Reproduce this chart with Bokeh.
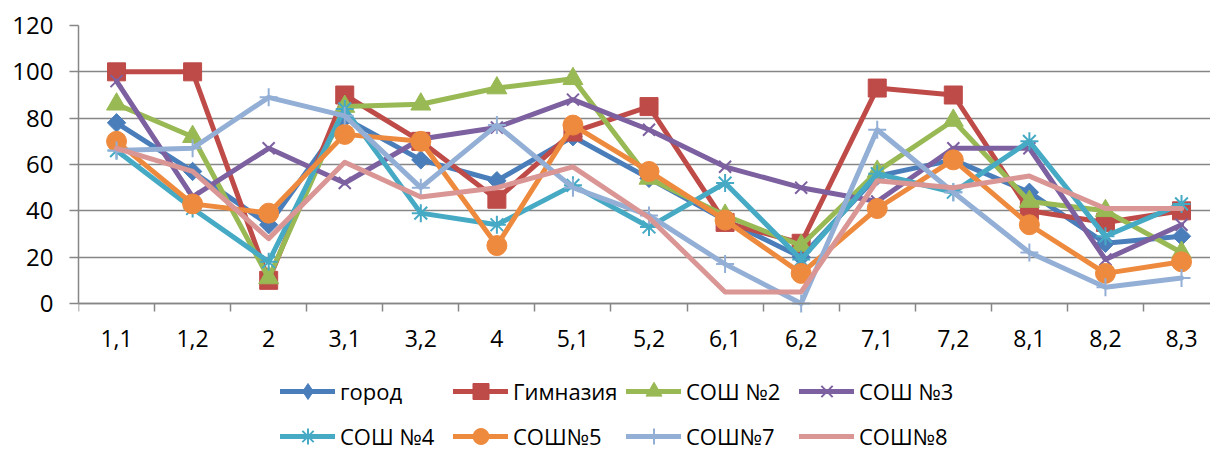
import math
from bokeh.plotting import figure
from bokeh.models import Range1d, FixedTicker, Legend, LegendItem, ColumnDataSource
from bokeh.embed import file_html
from bokeh.resources import INLINE

categories = ["1,1", "1,2", "2", "3,1", "3,2", "4", "5,1", "5,2", "6,1", "6,2",
              "7,1", "7,2", "8,1", "8,2", "8,3"]

gorod    = [78, 57, 34, 80, 62, 53, 72, 54, 36, 20, 55, 62, 48, 26, 29]
gimnaz   = [100, 100, 10, 90, 70, 45, 74, 85, 35, 26, 93, 90, 40, 35, 40]
sosh2    = [86, 72, 11, 85, 86, 93, 97, 54, 38, 25, 57, 79, 44, 40, 22]
sosh3    = [96, 46, 67, 52, 71, 76, 88, 75, 59, 50, 44, 67, 67, 19, 34]
sosh4    = [66, 41, 18, 84, 39, 34, 51, 33, 52, 19, 56, 48, 70, 29, 43]
sosh5    = [70, 43, 39, 73, 70, 25, 77, 57, 36, 13, 41, 62, 34, 13, 18]
sosh7    = [66, 67, 89, 81, 50, 77, 50, 38, 17, 0, 75, 48, 22, 7, 11]
sosh8    = [67, 57, 28, 61, 46, 50, 59, 37, 5, 5, 53, 50, 55, 41, 41]

series_names = ["город", "Гимназия", "СОШ №2", "СОШ №3", "СОШ №4", "СОШ№5", "СОШ№7", "СОШ№8"]
series_values = [gorod, gimnaz, sosh2, sosh3, sosh4, sosh5, sosh7, sosh8]
y_ticks = [0, 20, 40, 60, 80, 100, 120]

# style: color, marker, size, angle, marker line width
styles = [
    ("#4A7EBB", "square", 13, math.pi / 4, 1),
    ("#BE4B48", "square", 18, 0, 1),
    ("#98B954", "triangle", 20, 0, 1),
    ("#7D60A0", "x", 17, 0, 2),
    ("#46AAC5", "asterisk", 18, 0, 2),
    ("#EE8A3E", "circle", 20, 0, 1),
    ("#93AFD6", "cross", 18, 0, 2),
    ("#D99694", None, 0, 0, 0),
]

FONT = "Open Sans"
GRID = "#868686"

# frame spans y=25..453; value 0 sits at y=303, 120 at y=25 (278 px per 120)
Y_BOTTOM = -150 * 120 / 278.0

p = figure(width=1210, height=453,
           x_range=Range1d(-0.5, 14.381), y_range=Range1d(Y_BOTTOM, 120),
           output_backend="svg", toolbar_location=None,
           min_border_left=78, min_border_right=0,
           min_border_top=25, min_border_bottom=0)
p.outline_line_color = None
p.background_fill_color = "white"
p.border_fill_color = "white"

xs = list(range(len(categories)))
items = []
for name, vals, (color, marker, size, angle, mlw) in zip(series_names, series_values, styles):
    src = ColumnDataSource(dict(x=xs, y=vals))
    rl = p.line("x", "y", source=src, line_color=color, line_width=5,
                line_join="round", line_cap="round")
    rends = [rl]
    if marker is not None:
        if marker in ("x", "asterisk", "cross"):
            rs = p.scatter("x", "y", source=src, marker=marker, size=size,
                           line_color=color, line_width=mlw)
            rends.append(rs)
        else:
            if angle:
                # diamond drawn underneath the rotated square; it provides the legend glyph
                rd = p.scatter("x", "y", source=src, marker="diamond", size=16,
                               fill_color=color, line_color=color, line_width=mlw)
                rends.append(rd)
            rs = p.scatter("x", "y", source=src, marker=marker, size=size, angle=angle,
                           fill_color=color, line_color=color, line_width=mlw)
            if not angle:
                rends.append(rs)
    items.append(LegendItem(label=name, renderers=rends))

# axes
p.xgrid.visible = False
p.ygrid.grid_line_color = GRID
p.ygrid.grid_line_width = 1.5

p.yaxis.ticker = FixedTicker(ticks=y_ticks)
p.yaxis.bounds = (0, 120)
p.yaxis.axis_line_color = GRID
p.yaxis.axis_line_width = 1.5
p.yaxis.major_tick_line_color = GRID
p.yaxis.major_tick_line_width = 1.5
p.yaxis.major_tick_out = 9
p.yaxis.major_tick_in = 0
p.yaxis.minor_tick_line_color = None
p.yaxis.major_label_standoff = 16
p.yaxis.major_label_text_font = FONT
p.yaxis.major_label_text_font_size = "24px"
p.yaxis.major_label_text_color = "black"

p.xaxis.fixed_location = 0
p.xaxis.ticker = FixedTicker(ticks=xs, minor_ticks=[i - 0.5 for i in range(len(categories) + 1)])
p.xaxis.major_label_overrides = {i: c for i, c in enumerate(categories)}
p.xaxis.axis_line_color = GRID
p.xaxis.axis_line_width = 1.5
p.xaxis.major_tick_line_color = None
p.xaxis.major_tick_out = 0
p.xaxis.major_tick_in = 0
p.xaxis.minor_tick_line_color = GRID
p.xaxis.minor_tick_line_width = 1.5
p.xaxis.minor_tick_out = 8
p.xaxis.minor_tick_in = 0
p.xaxis.major_label_standoff = 18
p.xaxis.major_label_text_font = FONT
p.xaxis.major_label_text_font_size = "23px"
p.xaxis.major_label_text_color = "black"

legend = Legend(items=items, location=(202, -3), orientation="horizontal", ncols=4,
                glyph_width=55, glyph_height=40, label_width=108, label_height=40,
                label_standoff=5, spacing=5, padding=0, margin=0,
                label_text_font=FONT, label_text_font_size="22px",
                label_text_color="black",
                background_fill_alpha=0, border_line_color=None)
p.add_layout(legend, "center")

open("out.html", "w").write(file_html(p, INLINE))
